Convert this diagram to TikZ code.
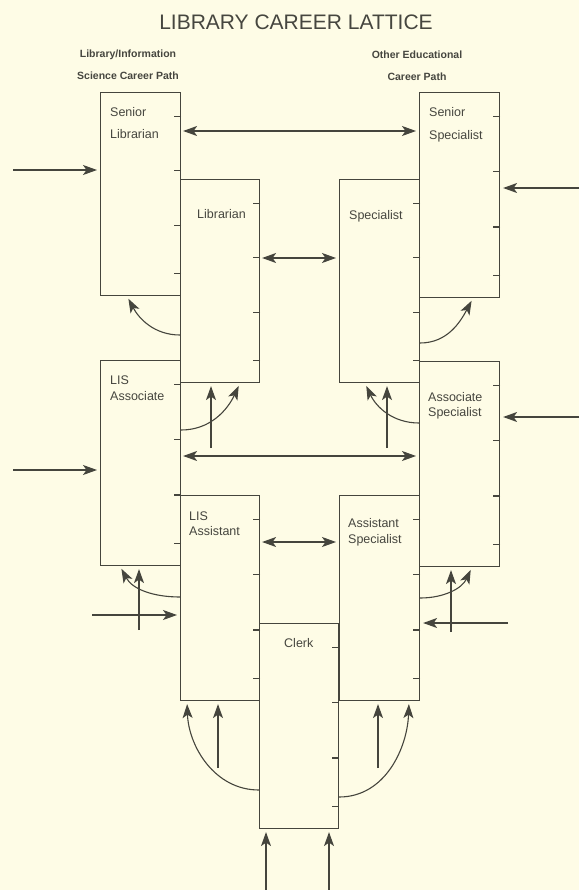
\documentclass[tikz,border=0pt]{standalone}
\usepackage{fontspec}
\setmainfont{Liberation Sans}
\usepackage{tikz}
\usetikzlibrary{arrows.meta,positioning,calc}
\definecolor{LatticeInk}{HTML}{45453D}
\definecolor{LatticeText}{HTML}{46463F}
\definecolor{LatticePaper}{HTML}{FEFCE6}

\tikzset{
  post/.style={draw=LatticeInk,line width=1.1pt,minimum width=80pt,minimum height=205pt,
    inner sep=0pt,anchor=north west},
  postname/.style={anchor=north west,inner sep=0pt,align=left,text=LatticeText,
    font=\fontsize{12.5}{16}\selectfont},
  pathhead/.style={anchor=north,inner sep=0pt,align=center,text=LatticeText,
    font=\fontsize{10.5}{22}\selectfont\bfseries},
  move/.style={draw=LatticeInk,line width=1.1pt,shorten >=3pt},
  swap/.style={move,shorten <=2pt}
}

\begin{document}
\begin{tikzpicture}[x=1pt,y=1pt,>={Stealth[length=14pt,width=10pt,inset=3.5pt]}]
  \fill[LatticePaper] (0,0) rectangle (579,-890);
  \useasboundingbox (0,0) rectangle (579,-890);

  \node[text=LatticeText,font=\fontsize{21}{21}\selectfont] (title) at (296,-22)
    {LIBRARY CAREER LATTICE};
  \node[pathhead] (lishead) at (128,-50) {Library/Information\\Science Career Path};
  \node[pathhead] (eduhead) at (417,-51) {Other Educational\\Career Path};

  % the posts
  \node[post,minimum height=203pt] (sl) at (100,-92) {};
  \node[post,minimum width=79pt,minimum height=203pt] (lib) at (180,-179) {};
  \node[post,minimum height=203pt] (spec) at (339,-179) {};
  \node[post] (ss) at (419,-92) {};
  \node[post] (lisa) at (100,-360) {};
  \node[post] (asso) at (419,-361) {};
  \node[post,minimum width=79pt] (lisb) at (180,-495) {};
  \node[post] (assi) at (339,-495) {};
  \node[post,minimum width=79pt] (clerk) at (259,-623) {};

  \foreach \p in {sl,lib,spec,ss,lisa,asso,lisb,assi,clerk}
    \foreach \f in {0.12,0.385,0.655,0.89}
      \draw[LatticeInk,line width=1.1pt] ($(\p.north east)!\f!(\p.south east)$) -- ++(-7,0);

  \node[postname,font=\fontsize{12.5}{22}\selectfont,below right=15.5pt and 10pt of sl.north west]
    (slname) {Senior\\Librarian};
  \node[postname,below right=30.5pt and 17pt of lib.north west] (libname) {Librarian};
  \node[postname,below right=31.5pt and 10pt of spec.north west] (specname) {Specialist};
  \node[postname,font=\fontsize{12.5}{23}\selectfont,below right=15.5pt and 10pt of ss.north west]
    (ssname) {Senior\\Specialist};
  \node[postname,below right=15.5pt and 10pt of lisa.north west] (lisaname) {LIS\\Associate};
  \node[postname,font=\fontsize{12.5}{15}\selectfont,below right=31.5pt and 9pt of asso.north west]
    (assoname) {Associate\\Specialist};
  \node[postname,font=\fontsize{12.5}{15}\selectfont,below right=16.5pt and 9pt of lisb.north west]
    (lisbname) {LIS\\Assistant};
  \node[postname,below right=23.5pt and 9pt of assi.north west] (assiname) {Assistant\\Specialist};
  \node[postname,below right=15.5pt and 25pt of clerk.north west] (clerkname) {Clerk};

  % moves across
  \draw[swap,<->] ([yshift=-39pt]sl.north east) -- ([yshift=-39pt]ss.north west);
  \draw[swap,<->] ([yshift=-79pt]lib.north east) -- ([yshift=-79pt]spec.north west);
  \coordinate (acrossA) at ([yshift=-96pt]lisa.north east);
  \draw[swap,<->] (acrossA) -- (acrossA -| asso.west);
  \draw[swap,<->] ([yshift=-47pt]lisb.north east) -- ([yshift=-47pt]assi.north west);

  % entry from outside
  \coordinate (inSL) at (13,-170);
  \coordinate (inSS) at (579,-188);
  \coordinate (inLA) at (13,-470);
  \coordinate (inAS) at (579,-417);
  \coordinate (inLB) at (92,-615);
  \coordinate (inAB) at (508,-623);
  \draw[move,->] (inSL) -- (inSL -| sl.west);
  \draw[move,->] (inSS) -- (inSS -| ss.east);
  \draw[move,->] (inLA) -- (inLA -| lisa.west);
  \draw[move,->] (inAS) -- (inAS -| asso.east);
  \draw[move,->] (inLB) -- (inLB -| lisb.west);
  \draw[move,->] (inAB) -- (inAB -| assi.east);

  % moves up
  \coordinate (upL) at (211,-448);
  \coordinate (upS) at (387,-448);
  \coordinate (upLA) at (139,-630);
  \coordinate (upAS) at (451,-632);
  \coordinate (upLB) at (218,-768);
  \coordinate (upAB) at (378,-768);
  \coordinate (upCa) at (266,-890);
  \coordinate (upCb) at (329,-890);
  \draw[move,->] (upL) -- (upL |- lib.south);
  \draw[move,->] (upS) -- (upS |- spec.south);
  \draw[move,->] (upLA) -- (upLA |- lisa.south);
  \draw[move,->] (upAS) -- (upAS |- asso.south);
  \draw[move,->] (upLB) -- (upLB |- lisb.south);
  \draw[move,->] (upAB) -- (upAB |- assi.south);
  \draw[move,->] (upCa) -- (upCa |- clerk.south);
  \draw[move,->] (upCb) -- (upCb |- clerk.south);

  % promotions
  \draw[move,->] ([yshift=-156pt]lib.north west) to[out=180,in=-62] ([xshift=27pt]sl.south west);
  \draw[move,->] ([yshift=-164pt]spec.north east) to[out=0,in=-118] ([xshift=54pt]ss.south west);
  \draw[move,->] ([yshift=-70pt]lisa.north east) to[out=0,in=-115] ([xshift=60pt]lib.south west);
  \draw[move,->] ([yshift=-62pt]asso.north west) to[out=180,in=-65] ([xshift=26pt]spec.south west);
  \draw[move,->] ([yshift=-102pt]lisb.north west) to[out=180,in=-62] ([xshift=20pt]lisa.south west);
  \draw[move,->] ([yshift=-103pt]assi.north east) to[out=0,in=-115] ([xshift=53pt]asso.south west);
  \draw[move,->] ([yshift=-167pt]clerk.north west) to[out=180,in=-88] ([xshift=7pt]lisb.south west);
  \draw[move,->] ([yshift=-174pt]clerk.north east) to[out=0,in=-92] ([xshift=70pt]assi.south west);
\end{tikzpicture}
\end{document}
